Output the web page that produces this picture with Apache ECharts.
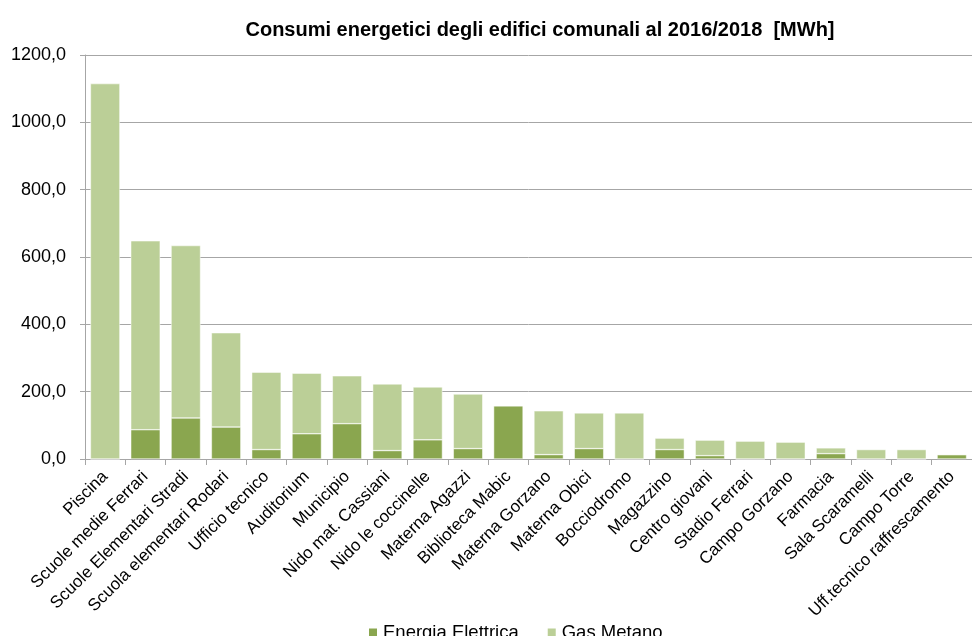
<!DOCTYPE html>
<html>
<head>
<meta charset="utf-8">
<script src="https://cdn.jsdelivr.net/npm/echarts@6/dist/echarts.min.js"></script>
<style>
  html, body { margin: 0; padding: 0; background: #fff; }
  #chart { width: 972px; height: 636px; }
</style>
</head>
<body>
<div id="chart"></div>
<script>
// edifici comunali
const categories = [
  'Piscina', 'Scuole medie Ferrari', 'Scuole Elementari Stradi', 'Scuola elementari Rodari',
  'Ufficio tecnico', 'Auditorium', 'Municipio', 'Nido mat. Cassiani', 'Nido le coccinelle',
  'Materna Agazzi', 'Biblioteca Mabic', 'Materna Gorzano', 'Materna Obici', 'Bocciodromo',
  'Magazzino', 'Centro giovani', 'Stadio Ferrari', 'Campo Gorzano', 'Farmacia',
  'Sala Scaramelli', 'Campo Torre', 'Uff.tecnico raffrescamento'
];

// MWh
const energiaElettrica = [0, 87, 122, 95, 28, 75, 105, 25, 57, 31, 158, 13, 31, 0, 28, 10, 0, 0, 16, 0, 0, 13];
const gasMetano = [1115, 561, 512, 280, 230, 180, 142, 198, 157, 162, 0, 130, 106, 137, 34, 46, 53, 50, 17, 28, 28, 0];

const chart = echarts.init(document.getElementById('chart'));

const fmt = v => v.toFixed(1).replace('.', ',');
const font = 'Liberation Sans, Arial, sans-serif';

const option = {
  animation: false,
  title: {
    text: 'Consumi energetici degli edifici comunali al 2016/2018  [MWh]',
    left: 535,
    textAlign: 'center',
    top: 15,
    textStyle: { fontFamily: font, fontSize: 20, fontWeight: 'bold', color: '#000' }
  },
  legend: {
    data: ['Energia Elettrica', 'Gas Metano'],
    left: 362,
    top: 618,
    icon: 'rect',
    itemWidth: 10,
    itemHeight: 10,
    itemGap: 27,
    textStyle: { fontFamily: font, fontSize: 18.5, color: '#000' }
  },
  grid: { left: 85, right: -13, top: 55, bottom: 177 },
  xAxis: {
    type: 'category',
    data: categories,
    axisLine: { lineStyle: { color: '#a6a6a6', width: 1 } },
    axisTick: { show: true, length: 6, lineStyle: { color: '#a6a6a6' } },
    axisLabel: {
      interval: 0,
      rotate: 45,
      margin: 15,
      fontFamily: font,
      fontSize: 17,
      color: '#000'
    }
  },
  yAxis: {
    type: 'value',
    min: 0,
    max: 1200,
    interval: 200,
    axisLine: { show: true, lineStyle: { color: '#a6a6a6' } },
    axisTick: { show: true, length: 5, lineStyle: { color: '#a6a6a6' } },
    splitLine: { lineStyle: { color: '#a6a6a6', width: 1 } },
    axisLabel: {
      formatter: fmt,
      margin: 19,
      fontFamily: font,
      fontSize: 18,
      color: '#000'
    }
  },
  series: [
    {
      name: 'Energia Elettrica',
      type: 'bar',
      stack: 'tot',
      data: energiaElettrica,
      barCategoryGap: '27%',
      itemStyle: { color: '#8aa64f', borderColor: '#ffffff', borderWidth: 0.5 }
    },
    {
      name: 'Gas Metano',
      type: 'bar',
      stack: 'tot',
      data: gasMetano,
      barCategoryGap: '27%',
      itemStyle: { color: '#bbcf97', borderColor: '#ffffff', borderWidth: 0.5 }
    }
  ]
};

chart.setOption(option);
</script>
</body>
</html>
